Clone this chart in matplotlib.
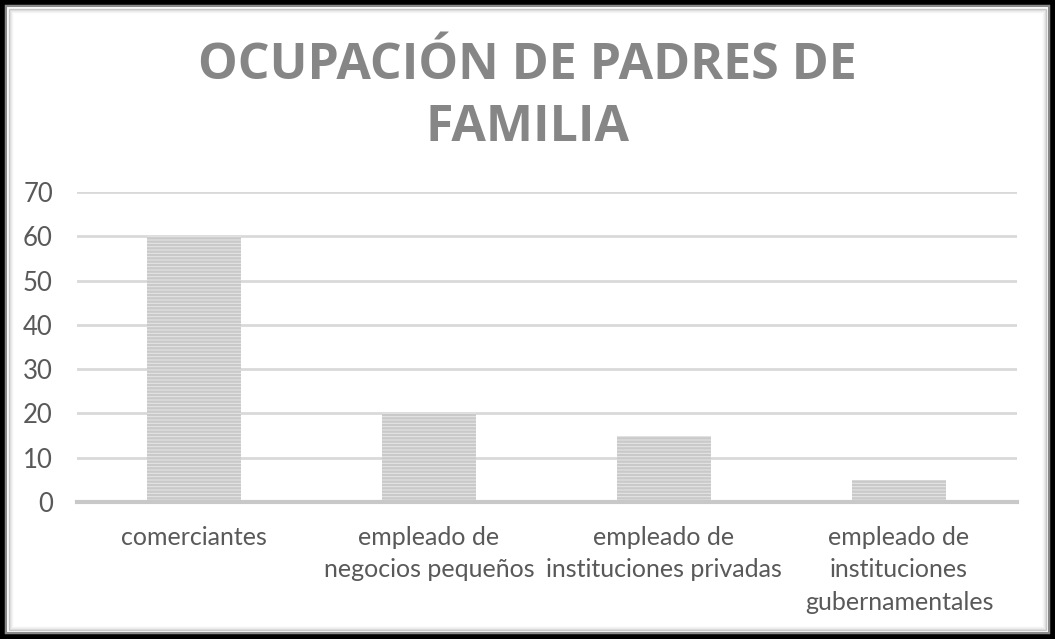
import matplotlib.pyplot as plt
from matplotlib.patches import Rectangle

categorias = ["comerciantes", "empleado de\nnegocios pequeños",
              "empleado de\ninstituciones privadas",
              "empleado de\ninstituciones\ngubernamentales"]
valores = [60, 20, 15, 5]
yticks = [0, 10, 20, 30, 40, 50, 60, 70]

plt.rcParams['font.family'] = ['Lato', 'DejaVu Sans']
plt.rcParams['hatch.linewidth'] = 1.6

fig = plt.figure(figsize=(10.55, 6.39), dpi=100)
W, H = 1055, 639
ax = fig.add_axes([76.5 / W, 137 / H, 940 / W, 310 / H])

x = list(range(len(categorias)))
bars = ax.bar(x, valores, width=0.4, color="#e4e4e4", edgecolor="#c9c9c9",
              hatch="-----", linewidth=0, zorder=3)

ax.set_xlim(-0.5, 3.5)
ax.set_ylim(0, 70)
ax.set_yticks(yticks)
ax.set_xticks(x)
ax.set_xticklabels(categorias, fontsize=18, color="#595959", linespacing=1.5)
ax.tick_params(axis="y", labelsize=18.5, labelcolor="#595959", length=0, pad=17)
ax.tick_params(axis="x", length=0, pad=17)
ax.grid(axis="y", color="#d9d9d9", linewidth=2, zorder=0)
for s in ["top", "right", "left"]:
    ax.spines[s].set_visible(False)
ax.spines["bottom"].set_color("#c8c8c8")
ax.spines["bottom"].set_linewidth(3)
ax.spines["bottom"].set_zorder(4)

fig.text(0.5, 1 - 66 / H, "OCUPACIÓN DE PADRES DE", ha="center", va="center",
         fontsize=36, fontweight="bold", color="#868686", family="Open Sans")
fig.text(0.5, 1 - 128 / H, "FAMILIA", ha="center", va="center",
         fontsize=36, fontweight="bold", color="#868686", family="Open Sans")

# marco con sombra
for i, c in enumerate(["#c4c4c4", "#dadada", "#e9e9e9", "#f4f4f4"]):
    off = 9 + i
    fig.patches.append(Rectangle((off / W, off / H), 1 - 2 * off / W, 1 - 2 * off / H,
                                 transform=fig.transFigure, fill=False,
                                 edgecolor=c, linewidth=1))
fig.patches.append(Rectangle((6 / W, 6 / H), 1 - 12 / W, 1 - 12 / H,
                             transform=fig.transFigure, fill=False,
                             edgecolor="#8a8a8a", linewidth=1.5))
fig.patches.append(Rectangle((0, 0), 1, 1, transform=fig.transFigure, fill=False,
                             edgecolor="black", linewidth=7))

fig.savefig("out.png", dpi=100)
